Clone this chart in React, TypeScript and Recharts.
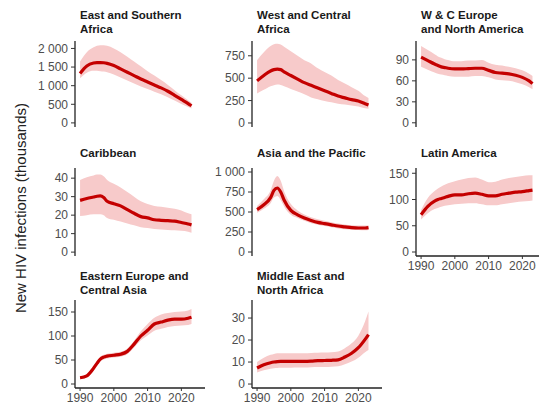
import { ComposedChart, Area, Line, XAxis, YAxis } from 'recharts';

// shared x values (years with an estimate)
const years = [1990, 1992, 1994, 1995, 1996, 1997, 1998, 2000, 2002, 2004, 2006, 2008, 2010, 2012, 2014, 2016, 2018, 2020, 2022, 2023];
const xTicks = [1990, 2000, 2010, 2020];

// East and Southern Africa
const esaEst = [1330, 1530, 1610, 1620, 1620, 1615, 1600, 1540, 1450, 1360, 1270, 1180, 1100, 1020, 940, 850, 740, 630, 520, 460];
const esaHigh = [1650, 1900, 2030, 2070, 2085, 2085, 2070, 2000, 1900, 1780, 1650, 1520, 1390, 1270, 1150, 1020, 880, 740, 610, 540];
const esaLow = [1200, 1350, 1400, 1400, 1390, 1380, 1360, 1300, 1220, 1140, 1060, 980, 910, 840, 770, 690, 600, 510, 430, 390];

// West and Central Africa
const wcaEst = [470, 530, 580, 595, 600, 595, 570, 530, 490, 450, 420, 390, 360, 330, 300, 280, 260, 245, 215, 200];
const wcaHigh = [700, 790, 860, 880, 885, 875, 850, 800, 750, 700, 665, 610, 570, 530, 480, 440, 400, 360, 300, 280];
const wcaLow = [330, 370, 410, 420, 430, 425, 410, 380, 350, 320, 285, 265, 245, 230, 215, 205, 195, 185, 165, 160];

// W & C Europe and North America
const wcenaEst = [94, 89, 84, 82, 80, 79, 78, 77, 77, 77.5, 78, 78, 75, 72, 71, 70, 68, 65, 60, 56];
const wcenaHigh = [110, 104, 98, 95, 93, 91, 90, 88, 88, 89, 89, 90, 86, 83, 82, 80, 78, 75, 70, 67];
const wcenaLow = [80, 76, 72, 70, 69, 68, 67, 66, 66, 66, 67, 67, 65, 62, 61, 60, 58, 55, 51, 48];

// Caribbean
const carEst = [28, 29, 29.8, 30.2, 30.4, 29.5, 27.5, 26.2, 25, 23, 21, 19.2, 18.5, 17.5, 17.2, 17, 16.8, 16, 15.2, 14.7];
const carHigh = [39, 40.5, 41.5, 42, 42, 41, 39, 37, 35, 32.5, 30, 27.5, 26, 25, 24.5, 24, 23.5, 22.5, 21, 20.5];
const carLow = [19.5, 20, 20.5, 20.5, 20.5, 20, 18.5, 17.5, 16.5, 15.5, 14.5, 13.5, 13, 12.5, 12.3, 12, 11.8, 11.5, 11, 10.5];

// Asia and the Pacific
const apEst = [530, 590, 680, 770, 800, 750, 650, 520, 465, 425, 395, 370, 355, 340, 325, 315, 305, 300, 300, 305];
const apHigh = [575, 660, 770, 890, 950, 890, 760, 600, 520, 470, 435, 410, 390, 372, 355, 345, 335, 330, 330, 335];
const apLow = [490, 540, 610, 680, 700, 650, 570, 465, 425, 390, 360, 340, 325, 310, 295, 285, 278, 275, 272, 275];

// Latin America
const laEst = [71, 87, 97, 100, 102, 104, 106, 109, 109, 111, 112, 110, 107, 107, 110, 112, 114, 115, 117, 118];
const laHigh = [80, 103, 116, 121, 125, 128, 131, 135, 138, 141, 142, 138, 133, 134, 138, 141, 143, 145, 146, 146];
const laLow = [62, 74, 82, 84, 86, 88, 89, 91, 92, 93, 93, 91, 89, 89, 91, 93, 95, 96, 97, 98];

// Eastern Europe and Central Asia
const eecaEst = [13, 17, 33, 43, 52, 56, 58, 60, 62, 68, 83, 100, 112, 125, 129, 133, 135, 135, 137, 139];
const eecaHigh = [16, 20, 37, 47, 57, 61, 63, 65, 67, 74, 90, 110, 125, 138, 145, 148, 150, 151, 153, 156];
const eecaLow = [10, 14, 29, 39, 47, 51, 53, 55, 57, 62, 76, 91, 101, 111, 115, 119, 121, 122, 123, 125];

// Middle East and North Africa
const menaEst = [7.3, 8.8, 9.7, 10, 10.2, 10.3, 10.3, 10.3, 10.3, 10.3, 10.4, 10.6, 10.7, 10.8, 11, 12.3, 14, 16.5, 20.3, 22.5];
const menaHigh = [10, 12, 13.3, 13.7, 14, 14, 14, 14, 14, 14, 14.1, 14.2, 14.3, 14.4, 14.8, 16.3, 18.5, 22, 28.5, 33];
const menaLow = [5.3, 6.3, 7, 7.2, 7.3, 7.4, 7.4, 7.4, 7.5, 7.5, 7.6, 7.7, 7.8, 7.9, 8.1, 9, 10.2, 12, 14.5, 15.5];

const RED = '#c40000';
const BAND = '#f7caca';
const FONT = '"Liberation Sans", Arial, sans-serif';

const fmt = (v: number) =>
  v >= 1000 ? `${Math.floor(v / 1000)} ${String(v % 1000).padStart(3, '0')}` : String(v);

interface PanelProps {
  title: string[];
  est: number[];
  low: number[];
  high: number[];
  axisX: number;
  top: number;
  plotH: number;
  titleTop: number;
  domain: [number, number];
  ticks: number[];
  showX?: boolean;
}

function Panel({ title, est, low, high, axisX, top, plotH, titleTop, domain, ticks, showX }: PanelProps) {
  const data = years.map((year, i) => ({ year, est: est[i], band: [low[i], high[i]] }));
  const yW = 50;
  const plotW = 130;
  const xH = 22;
  const padTop = 6;
  const padBottom = showX ? 0 : 8;
  const tickStyle = { fill: '#4d4d4d', fontSize: 12, fontFamily: FONT };

  return (
    <>
      <div
        style={{
          position: 'absolute',
          left: axisX + 5,
          top: titleTop,
          fontFamily: FONT,
          fontWeight: 'bold',
          fontSize: 11.5,
          lineHeight: '14px',
          color: '#1a1a1a',
          whiteSpace: 'nowrap',
        }}
      >
        {title.map((t) => (
          <div key={t}>{t}</div>
        ))}
      </div>
      <div style={{ position: 'absolute', left: axisX - yW, top: top - padTop }}>
        <ComposedChart
          width={yW + plotW}
          height={plotH + padTop + padBottom + (showX ? xH : 0)}
          data={data}
          margin={{ top: padTop, right: 0, bottom: padBottom, left: 0 }}
        >
          <XAxis
            dataKey="year"
            type="number"
            domain={[1988.5, 2027]}
            ticks={xTicks}
            interval={0}
            hide={!showX}
            height={xH}
            tick={tickStyle}
            tickSize={3}
            tickMargin={2}
            axisLine={{ stroke: '#222', strokeWidth: 1.3 }}
            tickLine={{ stroke: '#333' }}
          />
          <YAxis
            type="number"
            domain={domain}
            ticks={ticks}
            interval={0}
            allowDataOverflow
            width={yW}
            tick={tickStyle}
            tickFormatter={fmt}
            tickSize={4}
            tickMargin={3}
            axisLine={{ stroke: '#222', strokeWidth: 1.3 }}
            tickLine={{ stroke: '#333' }}
          />
          <Area
            type="monotone"
            dataKey="band"
            stroke="none"
            fill={BAND}
            fillOpacity={1}
            isAnimationActive={false}
          />
          <Line
            type="monotone"
            dataKey="est"
            stroke={RED}
            strokeWidth={3.2}
            dot={false}
            isAnimationActive={false}
          />
        </ComposedChart>
      </div>
    </>
  );
}

const COL = [75, 252, 416];

export default function App() {
  return (
    <div style={{ position: 'relative', width: 539, height: 406, overflow: 'hidden', background: '#fff' }}>
      <style>{'body{margin:0}'}</style>
      <div
        style={{
          position: 'absolute',
          left: 20,
          top: 208,
          transform: 'translate(-50%, -50%) rotate(-90deg)',
          fontFamily: FONT,
          fontSize: 15,
          color: '#222',
          whiteSpace: 'nowrap',
        }}
      >
        New HIV infections (thousands)
      </div>

      <Panel title={['East and Southern', 'Africa']} est={esaEst} low={esaLow} high={esaHigh}
        axisX={COL[0]} top={41} plotH={86} titleTop={8} domain={[-110, 2200]} ticks={[0, 500, 1000, 1500, 2000]} />
      <Panel title={['West and Central', 'Africa']} est={wcaEst} low={wcaLow} high={wcaHigh}
        axisX={COL[1]} top={41} plotH={86} titleTop={8} domain={[-45, 915]} ticks={[0, 250, 500, 750]} />
      <Panel title={['W & C Europe', 'and North America']} est={wcenaEst} low={wcenaLow} high={wcenaHigh}
        axisX={COL[2]} top={41} plotH={86} titleTop={8} domain={[-6, 117]} ticks={[0, 30, 60, 90]} />

      <Panel title={['Caribbean']} est={carEst} low={carLow} high={carHigh}
        axisX={COL[0]} top={168} plotH={88} titleTop={146} domain={[-2.1, 45.5]} ticks={[0, 10, 20, 30, 40]} />
      <Panel title={['Asia and the Pacific']} est={apEst} low={apLow} high={apHigh}
        axisX={COL[1]} top={168} plotH={88} titleTop={146} domain={[-50, 1050]} ticks={[0, 250, 500, 750, 1000]} />
      <Panel title={['Latin America']} est={laEst} low={laLow} high={laHigh}
        axisX={COL[2]} top={168} plotH={88} titleTop={146} domain={[-7.6, 160]} ticks={[0, 50, 100, 150]} showX />

      <Panel title={['Eastern Europe and', 'Central Asia']} est={eecaEst} low={eecaLow} high={eecaHigh}
        axisX={COL[0]} top={300} plotH={88} titleTop={269} domain={[-8.3, 175]} ticks={[0, 50, 100, 150]} showX />
      <Panel title={['Middle East and', 'North Africa']} est={menaEst} low={menaLow} high={menaHigh}
        axisX={COL[1]} top={300} plotH={88} titleTop={269} domain={[-1.8, 38.2]} ticks={[0, 10, 20, 30]} showX />
    </div>
  );
}
